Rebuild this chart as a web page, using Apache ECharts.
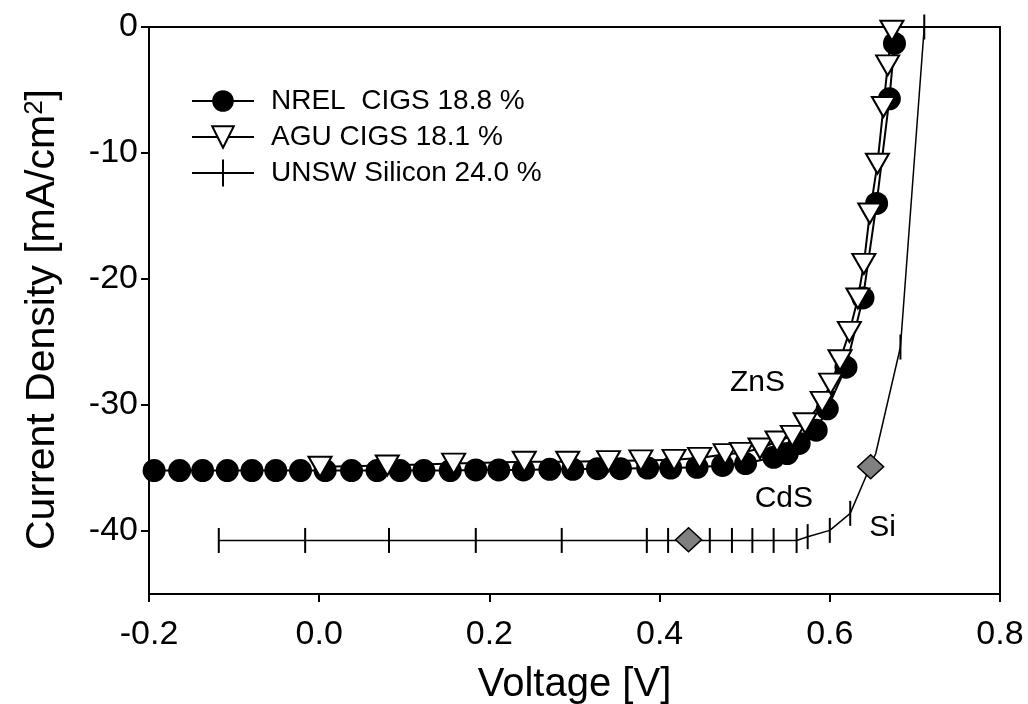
<!DOCTYPE html>
<html>
<head>
<meta charset="utf-8">
<script src="https://cdn.jsdelivr.net/npm/echarts@6/dist/echarts.min.js"></script>
<style>
html,body{margin:0;padding:0;background:#ffffff;}
#chart{width:1028px;height:704px;}
</style>
</head>
<body>
<div id="chart"></div>
<script>
// ---- data ----
const xTicks = [-0.2, 0.0, 0.2, 0.4, 0.6, 0.8];
const yTicks = [-40, -30, -20, -10, 0];

const seriesNames = ['NREL  CIGS 18.8 %', 'AGU CIGS 18.1 %', 'UNSW Silicon 24.0 %'];

const nrelV = [-0.194, -0.164, -0.137, -0.108, -0.079, -0.051, -0.022, 0.007, 0.038, 0.068,
  0.095, 0.123, 0.154, 0.184, 0.211, 0.240, 0.271, 0.298, 0.327, 0.354,
  0.386, 0.413, 0.444, 0.474, 0.501, 0.534, 0.550, 0.564, 0.584, 0.597,
  0.619, 0.639, 0.655, 0.670, 0.676];
const nrelJ = [-35.2, -35.2, -35.2, -35.2, -35.2, -35.2, -35.2, -35.2, -35.2, -35.2,
  -35.2, -35.2, -35.2, -35.15, -35.15, -35.15, -35.1, -35.1, -35.05, -35.05,
  -35.0, -35.0, -34.95, -34.8, -34.65, -34.15, -33.85, -33.05, -32.0, -30.3,
  -27.0, -21.5, -14.0, -5.7, -1.3];

const aguV = [0.001, 0.080, 0.158, 0.241, 0.292, 0.340, 0.378, 0.417, 0.447, 0.477,
  0.496, 0.518, 0.538, 0.556, 0.571, 0.591, 0.601, 0.612, 0.623, 0.633,
  0.640, 0.647, 0.656, 0.663, 0.668, 0.673];
const aguJ = [-34.9, -34.8, -34.65, -34.5, -34.5, -34.45, -34.4, -34.35, -34.2, -33.9,
  -33.8, -33.45, -32.9, -32.45, -31.45, -29.75, -28.3, -26.45, -24.2, -21.55,
  -18.8, -14.8, -10.85, -6.35, -3.05, -0.3];

const unswV = [-0.118, -0.0165, 0.082, 0.184, 0.285, 0.385, 0.410, 0.459, 0.485, 0.509,
  0.534, 0.561, 0.574, 0.600, 0.624, 0.654, 0.683, 0.711];
const unswJ = [-40.75, -40.75, -40.75, -40.75, -40.75, -40.75, -40.75, -40.75, -40.75, -40.75,
  -40.75, -40.75, -40.45, -39.95, -38.6, -33.85, -25.4, 0.0];
const unswNoMarker = [15]; // curve vertex without a tick mark

const diamondV = [0.434, 0.648];
const diamondJ = [-40.7, -34.9];

const noteText = ['ZnS', 'CdS', 'Si'];
const noteV = [0.515, 0.546, 0.662];
const noteJ = [-28.25, -37.45, -39.75];

// ---- chart ----
const FONT = '"Liberation Sans", Arial, Helvetica, sans-serif';
const chart = echarts.init(document.getElementById('chart'), null, {renderer: 'canvas'});

const zip = (a, b) => a.map((v, i) => [v, b[i]]);

const unswData = unswV.map((v, i) => unswNoMarker.indexOf(i) >= 0
  ? {value: [v, unswJ[i]], symbol: 'none'}
  : [v, unswJ[i]]);

const option = {
  animation: false,
  backgroundColor: '#ffffff',
  textStyle: {fontFamily: FONT, color: '#000'},
  grid: {
    left: 149, right: 28, top: 27, bottom: 110,
    containLabel: false, outerBoundsMode: 'none',
    show: true, borderColor: '#000', borderWidth: 2, backgroundColor: 'transparent'
  },
  legend: {
    orient: 'vertical',
    left: 186, top: 82,
    itemWidth: 62, itemHeight: 27, itemGap: 8,
    textStyle: {fontFamily: FONT, fontSize: 28, color: '#000', padding: [0, 0, 0, 12]},
    selectedMode: false,
    data: [
      {name: seriesNames[0]},
      {name: seriesNames[1]},
      {name: seriesNames[2], icon: 'path://M0,12.5 L62,12.5 L62,14.5 L0,14.5 Z M30,0 L32,0 L32,27 L30,27 Z'}
    ]
  },
  xAxis: {
    type: 'value', min: -0.2, max: 0.8,
    axisLine: {show: true, onZero: false, lineStyle: {color: '#000', width: 2}},
    axisTick: {show: true, inside: false, length: 8, lineStyle: {color: '#000', width: 2}, customValues: xTicks},
    axisLabel: {show: true, customValues: xTicks, formatter: v => v.toFixed(1),
      fontFamily: FONT, fontSize: 34, color: '#000', margin: 24},
    splitLine: {show: false},
    name: 'Voltage [V]', nameLocation: 'middle', nameGap: 71,
    nameTextStyle: {fontFamily: FONT, fontSize: 40, color: '#000'}
  },
  yAxis: {
    type: 'value', min: -45, max: 0,
    axisLine: {show: true, onZero: false, lineStyle: {color: '#000', width: 2}},
    axisTick: {show: true, inside: false, length: 8, lineStyle: {color: '#000', width: 2}, customValues: yTicks},
    axisLabel: {show: true, customValues: yTicks, formatter: v => String(v),
      fontFamily: FONT, fontSize: 34, color: '#000', margin: 11},
    splitLine: {show: false},
    name: 'Current Density [mA/cm{sup|2}]', nameLocation: 'middle', nameGap: 86,
    nameTextStyle: {
      fontFamily: FONT, fontSize: 41, color: '#000', padding: [0, 18, 0, 0],
      rich: {sup: {fontFamily: FONT, fontSize: 26, color: '#000', verticalAlign: 'top'}}
    }
  },
  series: [
    {
      name: seriesNames[0], type: 'line', data: zip(nrelV, nrelJ),
      symbol: 'circle', symbolSize: 23, clip: false, silent: true,
      itemStyle: {color: '#000'},
      lineStyle: {color: '#000', width: 2},
      emphasis: {disabled: true}, z: 3
    },
    {
      name: seriesNames[1], type: 'line', data: zip(aguV, aguJ),
      symbol: 'triangle', symbolSize: [23, 20], symbolRotate: 180, clip: false, silent: true,
      itemStyle: {color: '#fff', borderColor: '#000', borderWidth: 2},
      lineStyle: {color: '#000', width: 2},
      emphasis: {disabled: true}, z: 4
    },
    {
      name: seriesNames[2], type: 'line', data: unswData,
      symbol: 'rect', symbolSize: [2, 25], clip: false, silent: true,
      itemStyle: {color: '#000'},
      lineStyle: {color: '#000', width: 1.5},
      emphasis: {disabled: true}, z: 3
    },
    {
      name: 'points', type: 'scatter', data: zip(diamondV, diamondJ),
      symbol: 'diamond', symbolSize: [26, 24], clip: false, silent: true,
      itemStyle: {color: '#808080', borderColor: '#000', borderWidth: 1.5, opacity: 1},
      emphasis: {disabled: true}, z: 5
    },
    {
      name: 'notes', type: 'scatter',
      data: noteV.map((v, i) => ({value: [v, noteJ[i]], name: noteText[i]})),
      symbolSize: 1, clip: false, silent: true,
      itemStyle: {color: 'rgba(0,0,0,0)', opacity: 1},
      label: {show: true, position: 'inside', formatter: '{b}',
        fontFamily: FONT, fontSize: 30, color: '#000'},
      emphasis: {disabled: true}, z: 6
    }
  ]
};
chart.setOption(option);
</script>
</body>
</html>
